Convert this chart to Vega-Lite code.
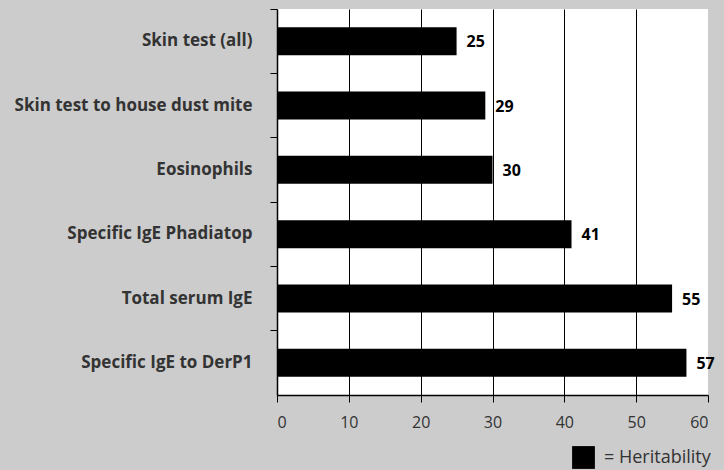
{
  "$schema": "https://vega.github.io/schema/vega-lite/v6.json",
  "width": 431,
  "height": 386,
  "autosize": {"type": "none"},
  "padding": {"left": 277, "top": 9, "right": 16, "bottom": 75},
  "background": "#cccccc",
  "config": {
    "view": {"fill": "white", "stroke": null},
    "font": "Open Sans"
  },
  "data": {
    "values": [
      {"trait": "Skin test (all)", "heritability": 25},
      {"trait": "Skin test to house dust mite", "heritability": 29},
      {"trait": "Eosinophils", "heritability": 30},
      {"trait": "Specific IgE Phadiatop", "heritability": 41},
      {"trait": "Total serum IgE", "heritability": 55},
      {"trait": "Specific IgE to DerP1", "heritability": 57}
    ]
  },
  "encoding": {
    "y": {
      "field": "trait",
      "type": "nominal",
      "sort": null,
      "scale": {"paddingInner": 0, "paddingOuter": 0},
      "axis": {
        "title": null,
        "bandPosition": 0,
        "domainColor": "black",
        "domainWidth": 1.5,
        "tickColor": "black",
        "tickSize": 7,
        "labelFontSize": 17,
        "labelFontWeight": "bold",
        "labelColor": "#333333",
        "labelPadding": 18,
        "labelLimit": 300,
        "grid": false
      }
    },
    "x": {
      "field": "heritability",
      "type": "quantitative",
      "scale": {"domain": [0, 60], "nice": false},
      "axis": {
        "title": null,
        "values": [0, 10, 20, 30, 40, 50, 60],
        "domainColor": "black",
        "domainWidth": 1.5,
        "tickColor": "black",
        "tickSize": 7,
        "labelFontSize": 16,
        "labelColor": "#333333",
        "labelPadding": 12,
        "grid": true,
        "gridColor": {"condition": {"test": "datum.value === 60 || datum.value === 0", "value": "transparent"}, "value": "black"},
        "gridOpacity": 1,
        "gridWidth": 1
      }
    }
  },
  "layer": [
    {
      "mark": {"type": "bar", "size": 28},
      "encoding": {
        "color": {
          "datum": "= Heritability",
          "type": "nominal",
          "scale": {"range": ["black"]},
          "legend": {
            "title": null,
            "orient": "none",
            "legendX": 295,
            "legendY": 437,
            "symbolType": "square",
            "symbolSize": 520,
            "symbolStrokeWidth": 0,
            "labelFontSize": 18,
            "labelColor": "#333333",
            "labelOffset": 9
          }
        }
      }
    },
    {
      "mark": {"type": "text", "align": "left", "baseline": "middle", "dx": 10, "dy": 1, "fontSize": 16, "fontWeight": "bold", "color": "black"},
      "encoding": {
        "text": {"field": "heritability", "type": "quantitative"}
      }
    }
  ]
}
